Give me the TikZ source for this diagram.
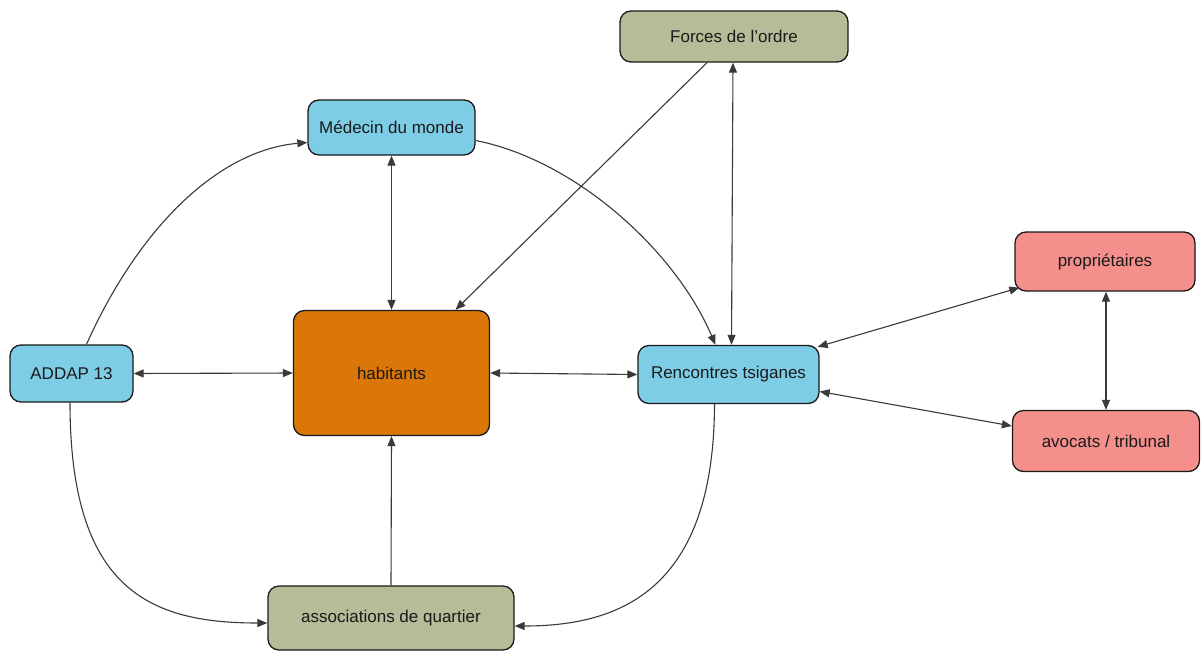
\documentclass[tikz,border=0pt]{standalone}
\usepackage{fontspec}
\setmainfont{Liberation Sans}
\usetikzlibrary{arrows.meta,calc}

\definecolor{olivebox}{HTML}{B5BC98}
\definecolor{bluebox}{HTML}{7ECDE6}
\definecolor{orangebox}{HTML}{DB7708}
\definecolor{pinkbox}{HTML}{F48F8C}
\definecolor{edgegray}{HTML}{3A3A3A}
\definecolor{inkdark}{HTML}{1A1A1A}

\tikzset{
  actor/.style={draw=inkdark, line width=1.3pt, rounded corners=11pt,
    inner sep=0pt, align=center, text=inkdark,
    font=\fontsize{17}{20}\selectfont},
  link/.style={draw=edgegray, line width=1.1pt,
    -{Triangle[length=10pt,width=8pt]}},
  twoway/.style={link, {Triangle[length=10pt,width=8pt]}-{Triangle[length=10pt,width=8pt]}}
}

\begin{document}
\begin{tikzpicture}[x=1pt,y=-1pt]
\useasboundingbox[fill=white] (0,0) rectangle (1201,651);

% actors
\node[actor, fill=olivebox, minimum width=228pt, minimum height=51pt] (forces) at (734,36.5) {Forces de l'ordre};
\node[actor, fill=bluebox, minimum width=167pt, minimum height=55pt] (medecin) at (391.5,127.5) {Médecin du monde};
\node[actor, fill=pinkbox, minimum width=180pt, minimum height=59pt] (proprio) at (1105,261.5) {propriétaires};
\node[actor, fill=bluebox, minimum width=123pt, minimum height=57pt] (addap) at (71.5,373.5) {ADDAP 13};
\node[actor, fill=orangebox, minimum width=196pt, minimum height=125pt] (habitants) at (391.5,373) {habitants};
\node[actor, fill=bluebox, minimum width=181pt, minimum height=58pt] (rencontres) at (728.5,374.5) {Rencontres tsiganes};
\node[actor, fill=pinkbox, minimum width=187pt, minimum height=61pt] (avocats) at (1106,441) {avocats / tribunal};
\node[actor, fill=olivebox, minimum width=246pt, minimum height=64pt] (assoc) at (391,618) {associations de quartier};

% straight links
\draw[link] ([xshift=-27pt]forces.south) -- ([xshift=64pt]habitants.north);
\draw[twoway] ([xshift=-1pt]forces.south) -- ([xshift=3pt]rencontres.north);
\draw[twoway] (medecin.south) -- (habitants.north);
\draw[twoway] (addap.east) -- (habitants.west);
\draw[twoway] (habitants.east) -- (rencontres.west);
\draw[link] (assoc.north) -- (habitants.south);
\draw[twoway] ([xshift=5pt,yshift=4pt]proprio.south west) -- ([xshift=-2pt,yshift=-2pt]rencontres.north east);
\draw[twoway] ([yshift=-17pt]rencontres.east) -- ([yshift=15pt]avocats.west);
\draw[twoway] ([xshift=1pt]proprio.south) -- (avocats.north);

% curved links
\draw[link] ([xshift=15pt]addap.north) .. controls (140,225) and (220,150) .. ([yshift=-15pt]medecin.west);
\draw[link] ([yshift=-13pt]medecin.east) .. controls (575,160) and (675,250) .. ([xshift=-13pt]rencontres.north);
\draw[link] ([xshift=-1.5pt]addap.south) .. controls (70,590) and (150,623) .. ([yshift=-5pt]assoc.west);
\draw[link] ([xshift=-14pt]rencontres.south) .. controls (714,590) and (620,626) .. ([yshift=-8pt]assoc.east);
\end{tikzpicture}
\end{document}
